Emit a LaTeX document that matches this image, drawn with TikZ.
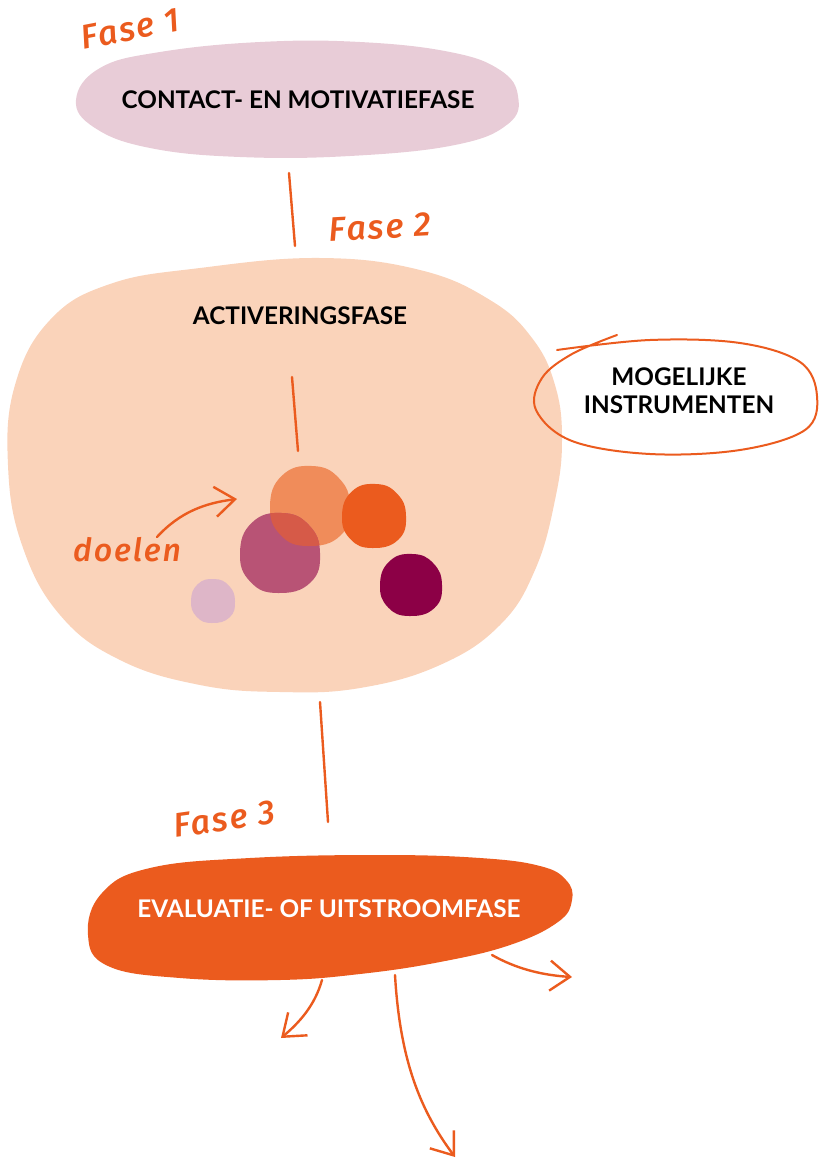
\documentclass[tikz,border=0pt]{standalone}
\usepackage{fontspec}
\setmainfont{Lato}
\newfontfamily\handfont{Fira Sans}[ItalicFont={Fira Sans Medium Italic}, LetterSpace=6]
\usetikzlibrary{arrows.meta,positioning}
\definecolor{fasepink}{HTML}{E8CCD7}
\definecolor{fasepeach}{HTML}{FAD3BA}
\definecolor{faseorange}{HTML}{EB5B1E}
\definecolor{doellight}{HTML}{F08C5A}
\definecolor{doelmauve}{HTML}{B85375}
\definecolor{doelmix}{HTML}{D65A48}
\definecolor{doelpurple}{HTML}{8C0046}
\definecolor{doelroze}{HTML}{DEB6C8}
\tikzset{
  fasetekst/.style={font=\bfseries\fontsize{24.3}{28}\selectfont, align=center, inner sep=0pt},
  fasenaam/.style={font=\handfont\itshape\fontsize{34}{34}\selectfont, text=faseorange, inner sep=0pt},
  pen/.style={draw=faseorange, line width=2.4pt, line cap=round},
  pijl/.style={pen, -{Straight Barb[length=20pt,width=30pt,line width=2.4pt]}},
}
% squarish blob around (#1,#2) with radius #3
\newcommand{\doelblob}[3]{plot[smooth cycle, tension=0.8] coordinates {
  (#1+#3,#2) (#1+0.76*#3,#2+0.74*#3) (#1-0.05*#3,#2+#3) (#1-0.74*#3,#2+0.72*#3)
  (#1-#3,#2) (#1-0.7*#3,#2-0.76*#3) (#1+0.05*#3,#2-#3) (#1+0.72*#3,#2-0.7*#3)}}
\begin{document}
\begin{tikzpicture}[x=1pt, y=-1pt]
\useasboundingbox (0,0) rectangle (819,1159);
% fase 1
\fill[fasepink] plot[smooth cycle, tension=0.7] coordinates {
  (76,100) (100,68) (160,52) (260,42) (360,42) (450,52) (500,70) (518,96)
  (508,124) (455,145) (350,156) (240,157) (150,148) (95,128)};
\node[fasetekst] (contact) at (298,100) {CONTACT- EN MOTIVATIEFASE};
\node[fasenaam, rotate=11] (fase1) at (130,29) {Fase 1};
% fase 2
\fill[fasepeach] plot[smooth cycle, tension=0.7] coordinates {
  (200,268) (320,258) (420,270) (490,300) (532,338) (555,385) (562,440)
  (555,500) (535,570) (500,625) (440,665) (360,688) (280,692) (200,685)
  (120,660) (60,615) (22,545) (8,465) (15,385) (50,320) (110,284)};
\node[fasetekst] (activering) at (300,316) {ACTIVERINGSFASE};
\node[fasenaam, rotate=3] (fase2) at (380,227) {Fase 2};
% doelen
\fill[doellight] \doelblob{310}{506}{40};
\fill[faseorange] \doelblob{374}{516}{32};
\fill[doelmauve] \doelblob{280}{553}{40};
\begin{scope}
  \clip \doelblob{310}{506}{40};
  \fill[doelmix] \doelblob{280}{553}{40};
\end{scope}
\fill[doelpurple] \doelblob{411}{585}{31};
\fill[doelroze] \doelblob{213}{601}{22};
\node[fasenaam, font=\handfont\itshape\fontsize{32}{32}\selectfont] (doelen) at (127,550) {doelen};
\coordinate (doelen-start) at (157,537);
\coordinate (doelen-eind) at (237,499);
\draw[pijl] (doelen-start) .. controls (180,512) and (205,503) .. (doelen-eind);
% mogelijke instrumenten
\draw[pen, line width=2pt] plot[smooth, tension=0.6] coordinates {
  (557,350) (650,340) (740,343) (800,362) (817,396) (805,430) (740,450)
  (650,454) (572,441) (536,410) (542,378) (572,354) (617,335)};
\node[fasetekst] (instrumenten) at (679,391) {MOGELIJKE\\INSTRUMENTEN};
% fase 3
\fill[faseorange] plot[smooth cycle, tension=0.7] coordinates {
  (88,935) (102,893) (150,868) (250,858) (380,855) (480,858) (540,866)
  (566,880) (572,900) (558,922) (510,945) (440,962) (360,974) (280,980)
  (180,978) (108,966)};
\node[fasetekst, text=white] (evaluatie) at (329,909) {EVALUATIE- OF UITSTROOMFASE};
\node[fasenaam, rotate=8] (fase3) at (224,819) {Fase 3};
% verbindingen
\coordinate (contact-onder) at (289,173);
\coordinate (activering-boven) at (295,246);
\coordinate (activering-tekst) at (292,377);
\coordinate (doelen-boven) at (298,451);
\coordinate (activering-onder) at (320,702);
\coordinate (evaluatie-boven) at (328,822);
\draw[pen] (contact-onder) -- (activering-boven);
\draw[pen] (activering-tekst) -- (doelen-boven);
\draw[pen] (activering-onder) -- (evaluatie-boven);
% uitstroom
\coordinate (uit-links) at (322,980);
\coordinate (uit-midden) at (395,975);
\coordinate (uit-rechts) at (492,955);
\draw[pijl] (uit-links) .. controls (315,1005) and (300,1022) .. (281,1038);
\draw[pijl] (uit-midden) .. controls (400,1060) and (420,1110) .. (455,1157);
\draw[pijl] (uit-rechts) .. controls (515,968) and (540,975) .. (572,977);
\end{tikzpicture}
\end{document}
